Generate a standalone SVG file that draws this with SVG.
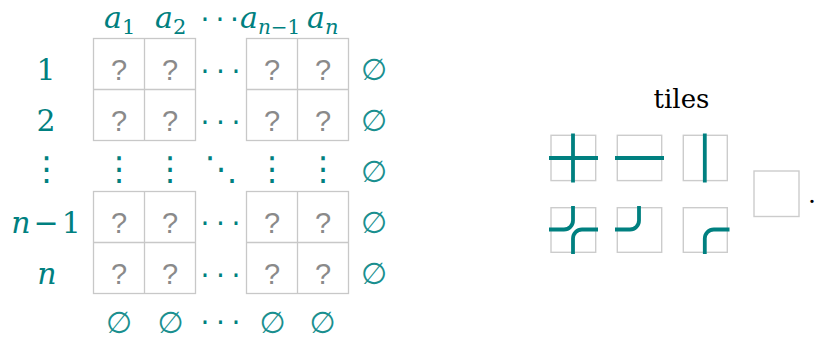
<svg xmlns="http://www.w3.org/2000/svg" width="817" height="339" viewBox="0 0 817 339">
<style>
.m{font-family:"DejaVu Serif",serif;font-size:30px;fill:#008080}
.i{font-style:italic}
.q{font-family:"Liberation Sans",sans-serif;font-size:29px;fill:#8a8a8a;text-anchor:middle}
.e{font-family:"DejaVu Sans",sans-serif;font-size:30px;fill:#1a8f8f;text-anchor:middle}
.d{font-family:"DejaVu Sans",sans-serif;font-size:28px;fill:#008080;text-anchor:middle}
.v{font-family:"DejaVu Sans",sans-serif;font-size:33px;fill:#008080;text-anchor:middle}
.c{fill:none;stroke:#c8c8c8;stroke-width:1.3}
.t{fill:none;stroke:#cccccc;stroke-width:1.4}
.p{fill:none;stroke:#008080;stroke-width:3.8}
.lbl{text-anchor:middle}
</style>
<g id="column-labels" class="m" font-size="32">
<text x="104" y="28"><tspan class="i">a</tspan><tspan font-size="21" dy="6">1</tspan></text>
<text x="155" y="28"><tspan class="i">a</tspan><tspan font-size="21" dy="6">2</tspan></text>
<text x="240" y="28"><tspan class="i">a</tspan><tspan font-size="20" dy="6"><tspan class="i">n</tspan>−1</tspan></text>
<text x="307" y="28"><tspan class="i">a</tspan><tspan font-size="21" dy="6" class="i">n</tspan></text>
<text class="d" x="205 220 234.5" y="29">···</text>
</g>
<g id="row-labels" class="m lbl">
<text x="46" y="80">1</text>
<text x="46" y="131">2</text>
<text class="v" x="46.5" y="180">⋮</text>
<text x="46" y="233"><tspan class="i">n</tspan><tspan dx="3">−</tspan><tspan dx="3">1</tspan></text>
<text x="47" y="284" class="i">n</text>
</g>
<g id="grid-top">
<rect class="c" x="93.5" y="38.5" width="102" height="102"/>
<path class="c" d="M144.5 38.5V140.5M93.5 89.5H195.5"/>
<rect class="c" x="246.5" y="38.5" width="102" height="102"/>
<path class="c" d="M297.5 38.5V140.5M246.5 89.5H348.5"/>
<g class="q">
<text x="119" y="80">?</text><text x="170" y="80">?</text><text x="272" y="80">?</text><text x="323" y="80">?</text>
<text x="119" y="131">?</text><text x="170" y="131">?</text><text x="272" y="131">?</text><text x="323" y="131">?</text>
</g>
<text class="d" x="205 220.5 236" y="81">···</text>
<text class="d" x="205 220.5 236" y="131.5">···</text>
</g>
<g id="grid-dots">
<text class="v" x="119" y="180">⋮</text>
<text class="v" x="170" y="180">⋮</text>
<text class="v" x="221" y="180">⋱</text>
<text class="v" x="272" y="180">⋮</text>
<text class="v" x="323" y="180">⋮</text>
</g>
<g id="grid-bottom">
<rect class="c" x="93.5" y="191.5" width="102" height="102"/>
<path class="c" d="M144.5 191.5V293.5M93.5 242.5H195.5"/>
<rect class="c" x="246.5" y="191.5" width="102" height="102"/>
<path class="c" d="M297.5 191.5V293.5M246.5 242.5H348.5"/>
<g class="q">
<text x="119" y="233">?</text><text x="170" y="233">?</text><text x="272" y="233">?</text><text x="323" y="233">?</text>
<text x="119" y="284">?</text><text x="170" y="284">?</text><text x="272" y="284">?</text><text x="323" y="284">?</text>
</g>
<text class="d" x="205 220.5 236" y="232.5">···</text>
<text class="d" x="205 220.5 236" y="285">···</text>
</g>
<g id="empty-right" class="e">
<text x="374" y="80">∅</text>
<text x="374" y="131">∅</text>
<text x="374" y="182">∅</text>
<text x="374" y="233">∅</text>
<text x="374" y="284">∅</text>
</g>
<g id="empty-bottom" class="e">
<text x="119" y="333">∅</text>
<text x="170.5" y="333">∅</text>
<text x="272.5" y="333">∅</text>
<text x="322.5" y="333">∅</text>
<text class="d" font-size="21" x="205 220.5 236" y="332">···</text>
</g>
<g id="tiles-title"><text x="681.5" y="108" font-family="DejaVu Serif, serif" font-size="26" text-anchor="middle" fill="#000">tiles</text></g>
<g id="tile-cross"><rect class="t" x="551" y="135.3" width="44.7" height="45.3"/><path class="p" d="M573 133.5V182.5M549 158H598"/></g>
<g id="tile-horizontal"><rect class="t" x="617.3" y="135.3" width="44.4" height="45.3"/><path class="p" d="M615 158H664"/></g>
<g id="tile-vertical"><rect class="t" x="683.3" y="135.3" width="44" height="45.3"/><path class="p" d="M704.8 133.5V182.5"/></g>
<g id="tile-double-elbow"><rect class="t" x="551" y="207.7" width="44.7" height="44.6"/><path class="p" d="M549 229.5H564A9 9 0 0 0 573 220.5V206M598 229.5H582A9 9 0 0 0 573 238.5V254"/></g>
<g id="tile-elbow-nw"><rect class="t" x="617.3" y="207.7" width="44.4" height="44.6"/><path class="p" d="M615 229.5H630A9 9 0 0 0 639 220.5V206"/></g>
<g id="tile-elbow-se"><rect class="t" x="683.3" y="207.7" width="44" height="44.6"/><path class="p" d="M729.5 229.5H713.8A9 9 0 0 0 704.8 238.5V254"/></g>
<g id="tile-empty"><rect class="t" x="754" y="171" width="45" height="45.5"/></g>
<text x="808" y="203" font-family="DejaVu Serif, serif" font-size="25" fill="#000">.</text>
</svg>
